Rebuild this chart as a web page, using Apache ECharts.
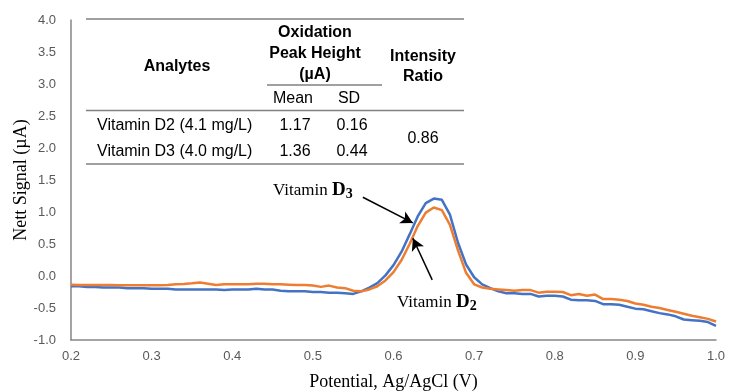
<!DOCTYPE html>
<html>
<head>
<meta charset="utf-8">
<script src="https://cdn.jsdelivr.net/npm/echarts@6/dist/echarts.min.js"></script>
<style>
  html, body { margin: 0; padding: 0; background: #fff; }
  #main { width: 729px; height: 391px; }
</style>
</head>
<body>
<div id="main"></div>
<script>
// potential (V), 0.01 V step
var potential = [
  0.20, 0.21, 0.22, 0.23, 0.24, 0.25, 0.26, 0.27, 0.28, 0.29,
  0.30, 0.31, 0.32, 0.33, 0.34, 0.35, 0.36, 0.37, 0.38, 0.39,
  0.40, 0.41, 0.42, 0.43, 0.44, 0.45, 0.46, 0.47, 0.48, 0.49,
  0.50, 0.51, 0.52, 0.53, 0.54, 0.55, 0.56, 0.57, 0.58, 0.59,
  0.60, 0.61, 0.62, 0.63, 0.64, 0.65, 0.66, 0.67, 0.68, 0.69,
  0.70, 0.71, 0.72, 0.73, 0.74, 0.75, 0.76, 0.77, 0.78, 0.79,
  0.80, 0.81, 0.82, 0.83, 0.84, 0.85, 0.86, 0.87, 0.88, 0.89,
  0.90, 0.91, 0.92, 0.93, 0.94, 0.95, 0.96, 0.97, 0.98, 0.99,
  1.00
];

// nett signal (µA)
var vitaminD3 = [
  -0.16, -0.16, -0.17, -0.17, -0.18, -0.18, -0.18, -0.19, -0.19, -0.19,
  -0.20, -0.20, -0.20, -0.21, -0.21, -0.21, -0.21, -0.21, -0.21, -0.22,
  -0.21, -0.21, -0.21, -0.20, -0.21, -0.21, -0.23, -0.24, -0.24, -0.24,
  -0.25, -0.25, -0.26, -0.26, -0.27, -0.28, -0.24, -0.18, -0.11, 0.01,
  0.17, 0.38, 0.65, 0.93, 1.14, 1.21, 1.19, 0.96, 0.52, 0.18,
  -0.02, -0.13, -0.19, -0.24, -0.27, -0.27, -0.28, -0.28, -0.32, -0.31,
  -0.31, -0.32, -0.37, -0.38, -0.38, -0.39, -0.44, -0.44, -0.45, -0.48,
  -0.51, -0.52, -0.55, -0.58, -0.60, -0.63, -0.68, -0.69, -0.70, -0.72,
  -0.78
];

var vitaminD2 = [
  -0.135, -0.14, -0.14, -0.14, -0.14, -0.14, -0.145, -0.145, -0.145, -0.145,
  -0.145, -0.145, -0.14, -0.13, -0.125, -0.115, -0.10, -0.12, -0.14, -0.13,
  -0.13, -0.13, -0.13, -0.12, -0.12, -0.13, -0.13, -0.135, -0.14, -0.14,
  -0.15, -0.17, -0.15, -0.18, -0.19, -0.23, -0.24, -0.21, -0.16, -0.07,
  0.06, 0.25, 0.50, 0.78, 0.99, 1.07, 1.03, 0.80, 0.40, 0.05,
  -0.13, -0.18, -0.20, -0.21, -0.22, -0.23, -0.22, -0.22, -0.26, -0.245,
  -0.245, -0.25, -0.30, -0.28, -0.31, -0.29, -0.36, -0.36, -0.37, -0.39,
  -0.43, -0.45, -0.48, -0.50, -0.53, -0.56, -0.59, -0.62, -0.645, -0.67,
  -0.71
];

// arrows (data coords): [start, tip]
var arrowD3 = [[0.562, 1.23], [0.624, 0.83]];
var arrowD2 = [[0.648, -0.06], [0.624, 0.59]];

// table contents
var tableHead = ['Analytes', 'Oxidation', 'Peak Height', '(µA)', 'Intensity', 'Ratio'];
var subHead = ['Mean', 'SD'];
var rowNames = ['Vitamin D2 (4.1 mg/L)', 'Vitamin D3 (4.0 mg/L)'];
var rowMean = ['1.17', '1.36'];
var rowSD = ['0.16', '0.44'];
var ratio = '0.86';

function zip(xs, ys) {
  return xs.map(function (x, i) { return [x, ys[i]]; });
}

var sans = 'Liberation Sans, Arial, sans-serif';
var serif = 'Liberation Serif, Times New Roman, serif';
var tableLine = { stroke: '#808080', lineWidth: 1.5 };

function txt(x, y, s, bold, align) {
  return {
    type: 'text', x: x, y: y, silent: true,
    style: {
      text: s, fill: '#000',
      font: (bold ? 'bold ' : '') + '16px ' + sans,
      textAlign: align || 'center', textVerticalAlign: 'middle'
    }
  };
}
function hline(x1, x2, y) {
  return { type: 'line', silent: true, shape: { x1: x1, y1: y, x2: x2, y2: y }, style: tableLine };
}
function vitaminLabel(x, y, sub) {
  return {
    type: 'text', x: x, y: y, silent: true,
    style: {
      text: '{a|Vitamin }{b|D}{c|' + sub + '}',
      textVerticalAlign: 'middle',
      rich: {
        a: { font: '17px ' + serif, fill: '#000', verticalAlign: 'bottom' },
        b: { font: 'bold 19px ' + serif, fill: '#000', verticalAlign: 'bottom' },
        c: { font: 'bold 14px ' + serif, fill: '#000', verticalAlign: 'bottom', padding: [0, 0, -2, 0] }
      }
    }
  };
}

var graphics = [
  hline(86, 464, 19),
  hline(267, 382, 85),
  hline(86, 464, 110.5),
  hline(86, 464, 164),
  txt(177, 67, tableHead[0], true),
  txt(315, 33, tableHead[1], true),
  txt(315, 54, tableHead[2], true),
  txt(315, 75, tableHead[3], true),
  txt(423, 57, tableHead[4], true),
  txt(423, 77, tableHead[5], true),
  txt(293, 99, subHead[0]),
  txt(349, 99, subHead[1]),
  txt(97, 126, rowNames[0], false, 'left'),
  txt(97, 152, rowNames[1], false, 'left'),
  txt(295, 126, rowMean[0]),
  txt(295, 152, rowMean[1]),
  txt(352, 126, rowSD[0]),
  txt(352, 152, rowSD[1]),
  txt(423, 139, ratio),
  vitaminLabel(273, 190, '3'),
  vitaminLabel(397, 302, '2')
];

var myChart = echarts.init(document.getElementById('main'));

var option = {
  animation: false,
  backgroundColor: '#fff',
  grid: { left: 71, right: 13, top: 20, bottom: 51, containLabel: false, outerBoundsMode: 'none' },
  xAxis: {
    type: 'value',
    min: 0.2, max: 1.0, interval: 0.1,
    name: 'Potential, Ag/AgCl (V)',
    nameLocation: 'middle',
    nameGap: 33,
    nameMoveOverlap: false,
    nameTextStyle: { fontFamily: serif, fontSize: 18, color: '#000' },
    axisLine: { onZero: false, lineStyle: { color: '#868686', width: 1.5 } },
    axisTick: { show: false },
    splitLine: { show: false },
    axisLabel: {
      color: '#595959', fontFamily: sans, fontSize: 13, margin: 10,
      formatter: function (v) { return v.toFixed(1); }
    }
  },
  yAxis: {
    type: 'value',
    min: -1, max: 4, interval: 0.5,
    name: 'Nett Signal (µA)',
    nameLocation: 'middle',
    nameGap: 41,
    nameMoveOverlap: false,
    nameTextStyle: { fontFamily: serif, fontSize: 18, color: '#000' },
    axisLine: { show: true, lineStyle: { color: '#868686', width: 1.5 } },
    axisTick: { show: false },
    splitLine: { show: false },
    axisLabel: {
      color: '#595959', fontFamily: sans, fontSize: 13, margin: 15,
      formatter: function (v) { return v.toFixed(1); }
    }
  },
  series: [
    {
      name: 'Vitamin D3',
      type: 'line',
      data: zip(potential, vitaminD3),
      showSymbol: false,
      lineStyle: { color: '#4472C4', width: 2.5 },
      itemStyle: { color: '#4472C4' },
      z: 2
    },
    {
      name: 'Vitamin D2',
      type: 'line',
      data: zip(potential, vitaminD2),
      showSymbol: false,
      lineStyle: { color: '#ED7D31', width: 2.5 },
      itemStyle: { color: '#ED7D31' },
      z: 3,
      markLine: {
        silent: true,
        symbol: ['none', 'arrow'],
        symbolSize: [10, 12],
        label: { show: false },
        lineStyle: { color: '#000', width: 1.5, type: 'solid' },
        data: [
          [{ coord: arrowD3[0] }, { coord: arrowD3[1] }],
          [{ coord: arrowD2[0] }, { coord: arrowD2[1] }]
        ]
      }
    }
  ],
  graphic: graphics
};

myChart.setOption(option);
</script>
</body>
</html>
